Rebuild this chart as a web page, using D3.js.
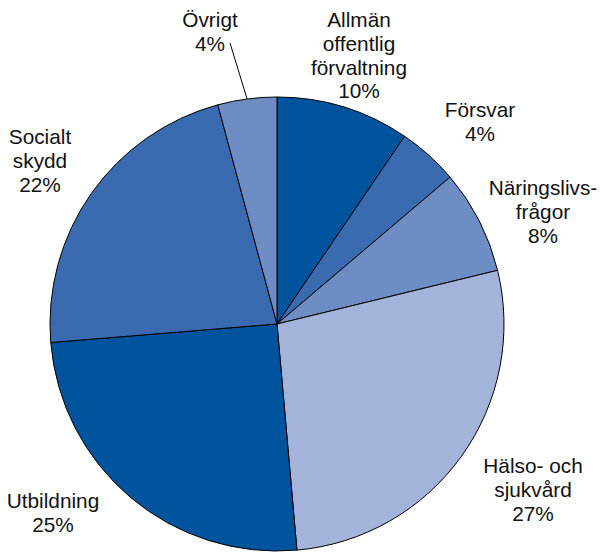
<!DOCTYPE html>
<html><head><meta charset="utf-8">
<script src="https://cdn.jsdelivr.net/npm/d3@7"></script>
<style>html,body{margin:0;padding:0;background:#fff;}svg{display:block;}</style>
</head><body>
<svg id="c" width="601" height="552"></svg>
<script>
const categories = ["Allmän offentlig förvaltning","Försvar","Näringslivsfrågor","Hälso- och sjukvård","Utbildning","Socialt skydd","Övrigt"];
const values = [9.5, 4.3, 7.4, 27.4, 25.1, 22.1, 4.2];
const pctLabels = ["10%","4%","8%","27%","25%","22%","4%"];
const labelLines = [["Allmän","offentlig","förvaltning"],["Försvar"],["Näringslivs-","frågor"],["Hälso- och","sjukvård"],["Utbildning"],["Socialt","skydd"],["Övrigt"]];

const colors = ["#00549E","#3A6BB0","#6E8DC5","#A4B3D9","#00549E","#3A6BB0","#6E8DC5"];
// label block centres (x, baseline of first line)
const labelPos = [[359,27],[480,117],[543,195],[533,473],[53,508],[40,144],[210,27]];

const svg = d3.select("#c");
const cx = 277, cy = 324, R = 227;
const g = svg.append("g").attr("transform",`translate(${cx},${cy})`);
const pie = d3.pie().sort(null).value(d=>d)(values);
const arc = d3.arc().innerRadius(0).outerRadius(R);
g.selectAll("path").data(pie).join("path")
  .attr("d",arc).attr("fill",(d,i)=>colors[i])
  .attr("stroke","#000").attr("stroke-width",1).attr("stroke-linejoin","round");

const lh = 23.8;
labelLines.forEach((lines,i)=>{
  const all = lines.concat([pctLabels[i]]);
  const t = svg.append("text").attr("text-anchor","middle")
    .attr("font-family","Liberation Sans, Arial, sans-serif").attr("font-size",20.8).attr("fill","#111");
  all.forEach((s,j)=>t.append("tspan").attr("x",labelPos[i][0]).attr("y",labelPos[i][1]+j*lh).text(s));
});
// leader line for Övrigt
const last = pie[pie.length-1];
const mid = (last.startAngle+last.endAngle)/2;
const p0 = [cx+R*Math.sin(mid), cy-R*Math.cos(mid)];
svg.append("line").attr("x1",p0[0]).attr("y1",p0[1]).attr("x2",230).attr("y2",43)
  .attr("stroke","#000").attr("stroke-width",1);
</script>
</body></html>
